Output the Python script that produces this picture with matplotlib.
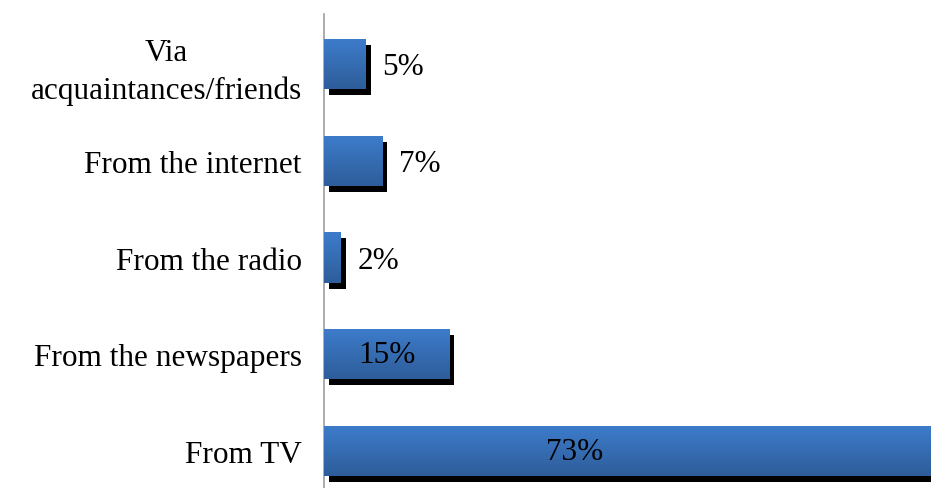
import numpy as np
import matplotlib
matplotlib.use("Agg")
from matplotlib import pyplot as plt
from matplotlib import transforms
from matplotlib.patches import Rectangle
from matplotlib.colors import LinearSegmentedColormap

categories = ["From TV", "From the newspapers", "From the radio",
              "From the internet", "Via\nacquaintances/friends"]
values = [73, 15, 2, 7, 5]
value_labels = ["73%", "15%", "2%", "7%", "5%"]

plt.rcParams['font.family'] = ['Liberation Serif', 'DejaVu Serif']

W, H, DPI = 931, 489, 100
fig = plt.figure(figsize=(W / DPI, H / DPI), dpi=DPI)
ax = fig.add_axes([324 / W, 0, (W - 324) / W, (H - 15) / H])

ypos = np.arange(len(categories))
bar_h = 0.52
bars = ax.barh(ypos, values, height=bar_h, color='none', edgecolor='none', zorder=3)

# light on top, darker towards the bottom of each bar
grad = LinearSegmentedColormap.from_list("bar", ["#2e5d9a", "#3d7ccb"])
shadow_off = transforms.ScaledTranslation(5 / DPI, -6 / DPI, fig.dpi_scale_trans)

for bar in bars:
    x0, y0 = bar.get_x(), bar.get_y()
    w, h = bar.get_width(), bar.get_height()
    sh = Rectangle((x0, y0), w, h, facecolor='black', edgecolor='none',
                   transform=ax.transData + shadow_off, zorder=2, clip_on=False)
    ax.add_patch(sh)
    img = ax.imshow(np.linspace(0, 1, 64).reshape(-1, 1), cmap=grad, aspect='auto',
                    extent=(x0, x0 + w, y0 + h, y0), origin='upper', zorder=3,
                    interpolation='bicubic')
    img.set_clip_path(bar)

ax.set_xlim(0, 72.8)
ax.set_ylim(-0.382, 4.517)

fs = 22.5
for y, v, lab in zip(ypos, values, value_labels):
    if v >= 10:
        xt = v / 2 if v < 40 else 30
        ax.text(xt, y, lab, ha='center', va='center', fontsize=fs, zorder=5)
    else:
        ax.annotate(lab, (v, y), xytext=(12, -2), textcoords='offset points',
                    ha='left', va='center', fontsize=fs, zorder=5)

ax.set_yticks(ypos)
ax.set_yticklabels(categories, fontsize=fs, multialignment='center', linespacing=1.35)
ax.tick_params(axis='y', length=0, pad=16)
ax.set_xticks([])
for s in ['top', 'right', 'bottom']:
    ax.spines[s].set_visible(False)
ax.spines['left'].set_color('#a6a6a6')
ax.spines['left'].set_linewidth(1.3)

fig.savefig("out.png", dpi=DPI)
